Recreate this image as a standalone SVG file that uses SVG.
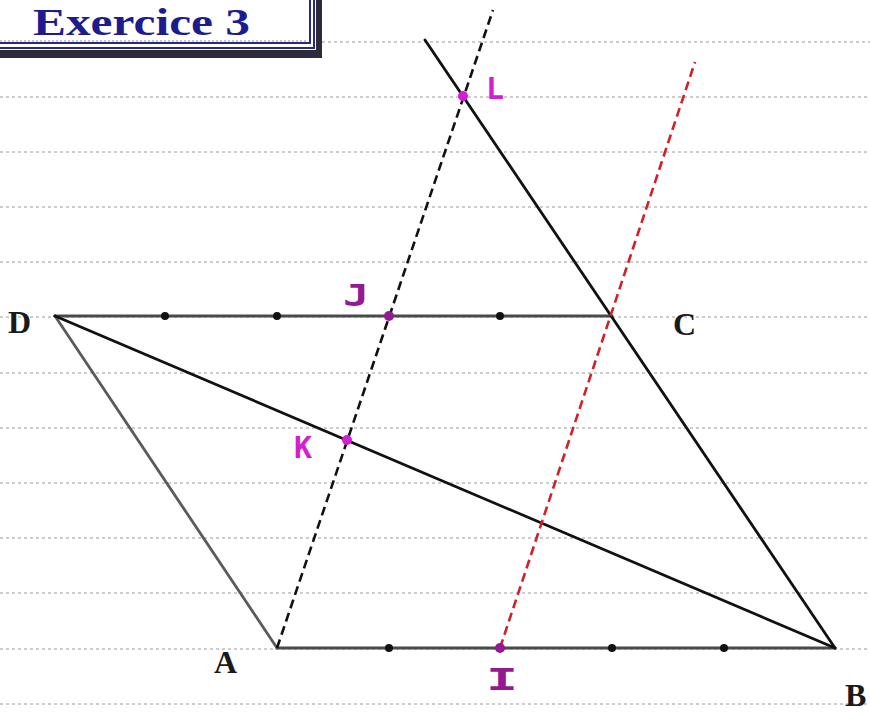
<svg xmlns="http://www.w3.org/2000/svg" width="870" height="712" viewBox="0 0 870 712">
<style>
.rule{stroke:#9a9a9a;stroke-width:1;stroke-dasharray:3 3;fill:none}
.seg{stroke:#111;stroke-width:2.8;fill:none;stroke-linecap:round}
.gray{stroke:#4a4a4a;stroke-width:3.2}
.side{stroke:#5a5a5a;stroke-width:2.8}
.dash{stroke:#111;stroke-width:2.6;stroke-dasharray:9 5;fill:none}
.red{stroke:#d0202a;stroke-width:2.6;stroke-dasharray:9 5;fill:none}
.tick{fill:#111}
.lbl{font-family:"Liberation Serif","Times New Roman",serif;font-weight:bold;font-size:32px;fill:#1a1a1a}
.hand{font-family:"DejaVu Sans Mono",monospace;font-size:30px;font-weight:bold}
.mag{fill:#d21fd2}
.pur{fill:#931a93}
</style>
<rect width="870" height="712" fill="#ffffff"/>
<g id="rules">
<line class="rule" x1="322" y1="42" x2="870" y2="42"/>
<line class="rule" x1="0" y1="97" x2="870" y2="97"/>
<line class="rule" x1="0" y1="152" x2="870" y2="152"/>
<line class="rule" x1="0" y1="207" x2="870" y2="207"/>
<line class="rule" x1="0" y1="262" x2="870" y2="262"/>
<line class="rule" x1="0" y1="317" x2="870" y2="317"/>
<line class="rule" x1="0" y1="373" x2="870" y2="373"/>
<line class="rule" x1="0" y1="428" x2="870" y2="428"/>
<line class="rule" x1="0" y1="483" x2="870" y2="483"/>
<line class="rule" x1="0" y1="538" x2="870" y2="538"/>
<line class="rule" x1="0" y1="593" x2="870" y2="593"/>
<line class="rule" x1="0" y1="649" x2="870" y2="649"/>
<line class="rule" x1="0" y1="704" x2="870" y2="704"/>
</g>
<g id="title">
<rect x="0" y="50" width="322" height="8" fill="#2b2b3a"/>
<rect x="316" y="0" width="6" height="58" fill="#2b2b3a"/>
<rect x="-4" y="-4" width="318" height="52" fill="#ffffff" stroke="#2a2a80" stroke-width="2"/>
<rect x="-4" y="-4" width="314" height="47" fill="#ffffff" stroke="#2a2a80" stroke-width="2"/>
<line x1="0" y1="41" x2="308" y2="41" stroke="#8888cc" stroke-width="1" stroke-dasharray="2 2"/>
<text x="33" y="35" font-family="Liberation Serif, Times New Roman, serif" font-weight="bold" font-size="38" fill="#1c1c8e" textLength="217" lengthAdjust="spacingAndGlyphs">Exercice 3</text>
</g>
<g id="connectors">
<line class="seg gray" x1="55" y1="316" x2="612" y2="316"/>
<line class="seg gray" x1="277" y1="648" x2="835" y2="648"/>
<line class="seg side" x1="55" y1="316" x2="277" y2="648"/>
<line class="seg" x1="55" y1="316" x2="835" y2="648"/>
<line class="seg" x1="425" y1="40" x2="835" y2="648"/>
<line class="dash" x1="277" y1="648" x2="493" y2="10"/>
<line class="red" x1="500" y1="648" x2="695" y2="62"/>
</g>
<g id="ticks">
<circle class="tick" cx="165" cy="316" r="4"/>
<circle class="tick" cx="277" cy="316" r="4"/>
<circle class="tick" cx="500" cy="316" r="4"/>
<circle class="tick" cx="389" cy="648" r="4"/>
<circle class="tick" cx="612" cy="648" r="4"/>
<circle class="tick" cx="724" cy="648" r="4"/>
</g>
<g id="D"><text class="lbl" x="8" y="333">D</text></g>
<g id="C"><text class="lbl" x="673" y="335">C</text></g>
<g id="A"><text class="lbl" x="214" y="673">A</text></g>
<g id="B"><text class="lbl" x="845" y="706">B</text></g>
<g id="L"><circle class="mag" cx="463" cy="96" r="5"/><text class="hand mag" x="486" y="99">L</text></g>
<g id="J"><circle class="pur" cx="389" cy="316" r="5"/><text class="hand pur" x="343" y="306" textLength="26" lengthAdjust="spacingAndGlyphs">J</text></g>
<g id="K"><circle class="mag" cx="347" cy="440" r="5"/><text class="hand mag" x="294" y="458">K</text></g>
<g id="I"><circle class="pur" cx="500" cy="648" r="5"/><text class="hand pur" x="486" y="690" textLength="32" lengthAdjust="spacingAndGlyphs">I</text></g>
</svg>
